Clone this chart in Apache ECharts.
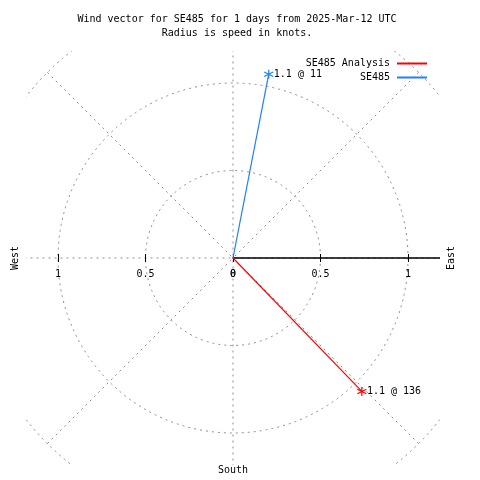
<!DOCTYPE html>
<html><head><meta charset="utf-8">
<script src="https://cdn.jsdelivr.net/npm/echarts@6/dist/echarts.min.js"></script>
<style>html,body{margin:0;padding:0;background:#fff}#c{width:480px;height:480px}</style>
</head><body><div id="c"></div>
<script>
const seriesNames = ['SE485 Analysis', 'SE485'];
const speeds = [1.06, 1.07];          // knots
const directions = [136, 11];         // degrees, clockwise from north
const colors = ['#ff0000', '#1e7fff'];
const radiusTicks = [0, 0.5, 1];
const titleText = 'Wind vector for SE485 for 1 days from 2025-Mar-12 UTC\nRadius is speed in knots.';

const FONT = 'DejaVu Sans Mono';
const CX = 233, CY = 258, R = 262.5, RMAX = 1.5;
const grid = '#8c8c8c';
const dash = [2, 4];
const star = 'path://M5,0L5,10M0.67,2.5L9.33,7.5M0.67,7.5L9.33,2.5';

const fmt = v => (radiusTicks.indexOf(v) >= 0 ? String(v) : '');
const hiddenAngle = (i, start) => ({polarIndex: i, startAngle: start, min: 0, max: 360,
  axisLine: {show: false}, axisTick: {show: false}, axisLabel: {show: false}, splitLine: {show: false}});
const baseRadius = i => ({polarIndex: i, min: 0, max: RMAX, interval: 0.5,
  axisLine: {show: false}, axisTick: {show: false}, axisLabel: {show: false}, splitLine: {show: false}});

const polar = [0, 1, 2, 3, 4].map(() => ({center: [CX, CY], radius: R}));
const angleAxis = [
  {polarIndex: 0, startAngle: 90, clockwise: true, min: 0, max: 360, interval: 45,
   axisLine: {show: false}, axisTick: {show: false}, axisLabel: {show: false},
   splitLine: {show: true, lineStyle: {color: grid, width: 1, type: dash}}},
  hiddenAngle(1, 0), hiddenAngle(2, 0), hiddenAngle(3, 180), hiddenAngle(4, 180)
];
const labelStyle = {fontFamily: FONT, fontSize: 10, color: '#000', formatter: fmt};
const radiusAxis = [
  Object.assign(baseRadius(0), {splitLine: {show: true, lineStyle: {color: grid, width: 1, type: dash}}}),
  Object.assign(baseRadius(1), {
    axisLine: {show: true, lineStyle: {color: '#000', width: 1.5}},
    axisTick: {show: true, length: 4, lineStyle: {color: '#000'}},
    axisLabel: Object.assign({show: true, margin: -11, verticalAlign: 'top'}, labelStyle)}),
  Object.assign(baseRadius(2), {
    axisTick: {show: true, length: -4, lineStyle: {color: '#000'}}}),
  Object.assign(baseRadius(3), {
    axisTick: {show: true, length: 4, lineStyle: {color: '#000'}},
    axisLabel: Object.assign({show: true, margin: 11, verticalAlign: 'top'}, labelStyle)}),
  Object.assign(baseRadius(4), {
    axisTick: {show: true, length: -4, lineStyle: {color: '#000'}}})
];

const series = seriesNames.map((name, k) => ({
  name, type: 'line', coordinateSystem: 'polar', polarIndex: 0,
  animation: false, z: 3,
  lineStyle: {color: colors[k], width: 1.2},
  itemStyle: {color: colors[k], borderColor: colors[k], borderWidth: 1.2},
  data: [
    {value: [0, directions[k]], symbol: 'none'},
    {value: [speeds[k], directions[k]], symbol: star, symbolSize: 9,
     label: {show: true, position: 'right', distance: 0, color: '#000', fontFamily: FONT, fontSize: 10,
       formatter: () => speeds[k].toFixed(1) + ' @ ' + directions[k]}}
  ]
}));

const mask = (x, y, w, h) => ({type: 'rect', z: 1, silent: true, shape: {x, y, width: w, height: h}, style: {fill: '#fff'}});
const txt = (x, y, t, rot) => ({type: 'text', z: 10, x, y, rotation: rot || 0,
  style: {text: t, fontFamily: FONT, fontSize: 10, fill: '#000', align: 'center', verticalAlign: 'middle'}});

const chart = echarts.init(document.getElementById('c'), null, {renderer: 'canvas'});
chart.setOption({
  animation: false,
  backgroundColor: '#fff',
  title: {text: titleText, left: 232, top: 7, textAlign: 'center',
    textStyle: {fontFamily: FONT, fontSize: 10, fontWeight: 'normal', color: '#000', lineHeight: 14}},
  legend: {orient: 'vertical', right: 53, top: 57, align: 'right', icon: 'rect', padding: 0,
    itemWidth: 30, itemHeight: 2, itemGap: 1,
    itemStyle: {borderWidth: 0},
    textStyle: {fontFamily: FONT, fontSize: 10, color: '#000', padding: [0, 2, 0, 0], lineHeight: 13},
    data: seriesNames},
  polar, angleAxis, radiusAxis, series,
  graphic: [
    mask(0, 0, 480, 51), mask(0, 465, 480, 15), mask(0, 0, 26, 480), mask(440, 0, 40, 480),
    txt(15, CY, 'West', Math.PI / 2),
    txt(451, CY, 'East', Math.PI / 2),
    txt(CX, 470, 'South', 0)
  ]
});
</script></body></html>
